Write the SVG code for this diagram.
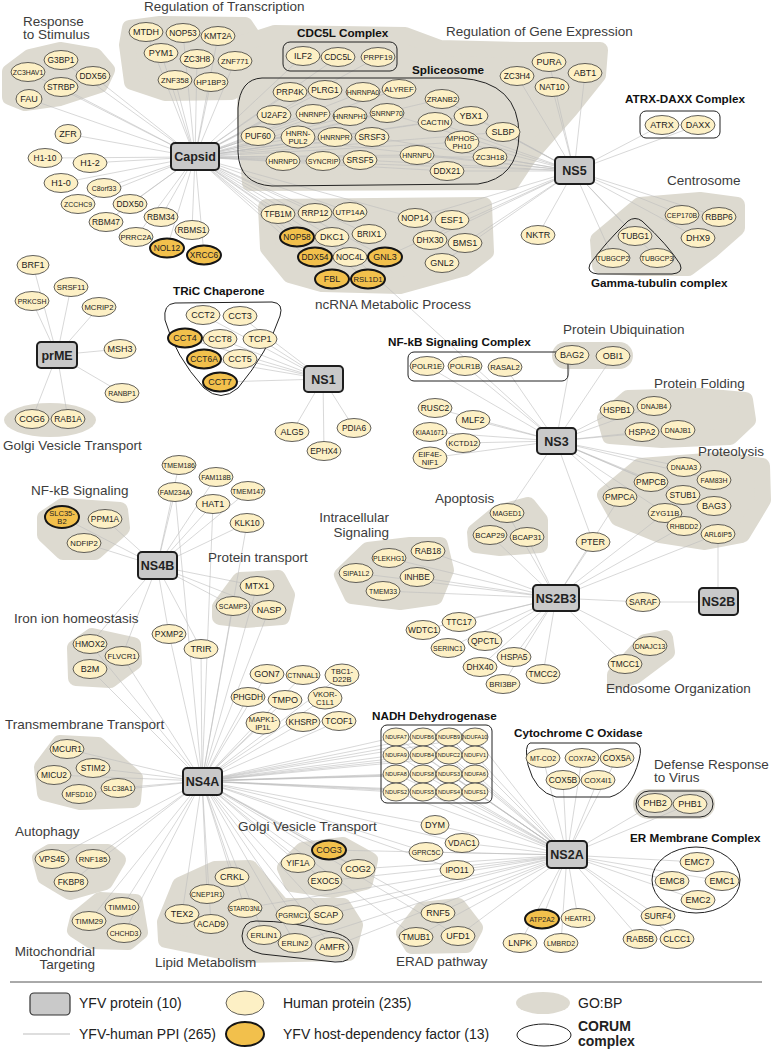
<svg xmlns="http://www.w3.org/2000/svg" width="771" height="1049" viewBox="0 0 771 1049">
<style>
.n ellipse{fill:#fdf0c5;stroke:#3a3a3a;stroke-width:.8}
.hdf ellipse{fill:#f2c04c;stroke:#151515;stroke-width:2}
.n text,.hub text{font-family:"Liberation Sans",Arial,sans-serif;text-anchor:middle;dominant-baseline:central;fill:#222}
.c4{font-size:9px}.c5{font-size:8.4px}.c6{font-size:7.7px}.c7{font-size:6.9px}.c8{font-size:6.3px}.c2{font-size:7.6px}.cn{font-size:5.5px}
.hub rect{fill:#c9c9c9;stroke:#1e1e1e;stroke-width:2}
.hub text{font-weight:bold;font-size:12.5px}
.go{fill:#dddad0;stroke:#dddad0;stroke-width:16;stroke-linejoin:round}
.gof{fill:#dddad0}
.cx{fill:none;stroke:#222;stroke-width:1}
.t{font-family:"Liberation Sans",Arial,sans-serif;font-size:13.5px;fill:#3c3c3c}
.tb{font-family:"Liberation Sans",Arial,sans-serif;font-size:11.7px;font-weight:bold;fill:#111}
.lg{font-family:"Liberation Sans",Arial,sans-serif;font-size:14px;fill:#222}
#edges line{stroke:#bdbdbd;stroke-width:.6}
</style>
<rect width="771" height="1049" fill="#fff"/>
<g id="gobp">
<polygon class="go" points="10,72 30,57 60,50 95,56 107,70 100,85 60,98 25,103 10,97"/>
<polygon class="go" points="130,28 160,24 245,25 255,40 250,75 232,92 165,93 132,82 127,45"/>
<polygon class="go" points="246,42 275,33 405,35 440,48 520,50 600,50 598,75 570,110 528,158 512,182 250,183 245,120"/>
<polygon class="go" points="266,207 484,205 486,252 465,268 400,286 322,284 290,275 268,248"/>
<polygon class="go" points="598,240 640,205 700,200 737,205 737,228 712,250 688,268 640,268 600,266"/>
<rect class="gof" x="552" y="342" width="81" height="27" rx="13.5"/>
<polygon class="go" points="605,418 628,398 700,396 745,400 748,420 730,437 662,440 610,436"/>
<polygon class="go" points="605,495 640,466 720,460 762,466 763,500 742,535 705,542 660,535 618,518"/>
<polygon class="go" points="475,532 498,513 528,505 540,520 540,545 500,548 476,545"/>
<polygon class="go" points="342,575 368,550 410,545 440,545 446,570 435,597 400,602 352,596"/>
<polygon class="go" points="615,675 645,642 665,638 667,652 635,676 615,682"/>
<ellipse class="gof" cx="50" cy="420" rx="46" ry="17"/>
<polygon class="go" points="45,518 63,506 120,510 122,528 95,552 63,552 45,535"/>
<polygon class="go" points="220,607 240,580 278,578 287,595 282,617 245,620 220,617"/>
<polygon class="go" points="75,648 92,636 133,645 134,662 110,680 76,678"/>
<polygon class="go" points="42,767 60,743 98,745 135,778 133,800 80,802 45,793"/>
<polygon class="go" points="40,858 50,852 108,852 118,860 105,882 70,892 45,877"/>
<polygon class="go" points="78,918 100,900 135,902 140,932 128,942 92,941 75,930"/>
<polygon class="go" points="165,922 180,885 215,869 250,868 265,886 282,906 343,906 355,925 348,953 240,955 166,940"/>
<polygon class="go" points="285,868 303,850 343,845 370,860 365,882 333,890 292,884"/>
<polygon class="go" points="404,933 422,910 458,906 475,928 466,945 412,946"/>
<rect class="gof" x="633" y="789" width="82" height="30" rx="15"/>
</g>
<g id="edges">
<line x1="195" y1="157" x2="61" y2="60"/><line x1="195" y1="157" x2="28" y2="72"/><line x1="195" y1="157" x2="93" y2="76"/><line x1="195" y1="157" x2="61" y2="87"/><line x1="195" y1="157" x2="29" y2="99"/>
<line x1="195" y1="157" x2="146" y2="32"/><line x1="195" y1="157" x2="183" y2="33"/><line x1="195" y1="157" x2="218" y2="36"/><line x1="195" y1="157" x2="161" y2="53"/><line x1="195" y1="157" x2="197" y2="59"/><line x1="195" y1="157" x2="235" y2="61"/><line x1="195" y1="157" x2="175" y2="80"/><line x1="195" y1="157" x2="211" y2="82"/>
<line x1="195" y1="157" x2="68" y2="134"/><line x1="195" y1="157" x2="45" y2="158"/><line x1="195" y1="157" x2="90" y2="163"/><line x1="195" y1="157" x2="61" y2="183"/><line x1="195" y1="157" x2="104" y2="188"/><line x1="195" y1="157" x2="78" y2="204"/><line x1="195" y1="157" x2="130" y2="204"/><line x1="195" y1="157" x2="106" y2="222"/><line x1="195" y1="157" x2="161" y2="217"/><line x1="195" y1="157" x2="192" y2="230"/><line x1="195" y1="157" x2="136" y2="237"/><line x1="195" y1="157" x2="167" y2="248"/><line x1="195" y1="157" x2="204" y2="255"/>
<line x1="195" y1="157" x2="303" y2="56"/><line x1="195" y1="157" x2="338" y2="57"/><line x1="195" y1="157" x2="378" y2="57"/>
<line x1="195" y1="157" x2="290" y2="92"/><line x1="195" y1="157" x2="325" y2="90"/><line x1="195" y1="157" x2="363" y2="92"/><line x1="195" y1="157" x2="399" y2="89"/><line x1="195" y1="157" x2="274" y2="115"/><line x1="195" y1="157" x2="313" y2="114"/><line x1="195" y1="157" x2="350" y2="116"/><line x1="195" y1="157" x2="387" y2="113"/><line x1="195" y1="157" x2="258" y2="136"/><line x1="195" y1="157" x2="298" y2="137"/><line x1="195" y1="157" x2="335" y2="137"/><line x1="195" y1="157" x2="372" y2="137"/><line x1="195" y1="157" x2="283" y2="161"/><line x1="195" y1="157" x2="323" y2="161"/><line x1="195" y1="157" x2="360" y2="160"/><line x1="195" y1="157" x2="417" y2="155"/><line x1="195" y1="157" x2="442" y2="99"/><line x1="195" y1="157" x2="435" y2="122"/><line x1="195" y1="157" x2="471" y2="116"/><line x1="195" y1="157" x2="503" y2="132"/><line x1="195" y1="157" x2="462" y2="142"/><line x1="195" y1="157" x2="490" y2="157"/><line x1="195" y1="157" x2="447" y2="171"/>
<line x1="195" y1="157" x2="278" y2="214"/><line x1="195" y1="157" x2="315" y2="213"/><line x1="195" y1="157" x2="350" y2="212"/><line x1="195" y1="157" x2="297" y2="237"/><line x1="195" y1="157" x2="332" y2="237"/><line x1="195" y1="157" x2="369" y2="234"/><line x1="195" y1="157" x2="315" y2="257"/><line x1="195" y1="157" x2="350" y2="257"/><line x1="195" y1="157" x2="385" y2="257"/><line x1="195" y1="157" x2="332" y2="279"/><line x1="195" y1="157" x2="368" y2="279"/><line x1="195" y1="157" x2="415" y2="218"/>
<line x1="574" y1="171" x2="517" y2="76"/><line x1="574" y1="171" x2="549" y2="62"/><line x1="574" y1="171" x2="585" y2="73"/><line x1="574" y1="171" x2="552" y2="87"/><line x1="574" y1="171" x2="662" y2="125"/><line x1="574" y1="171" x2="698" y2="125"/><line x1="574" y1="171" x2="682" y2="215"/><line x1="574" y1="171" x2="719" y2="217"/><line x1="574" y1="171" x2="698" y2="238"/><line x1="574" y1="171" x2="635" y2="236"/><line x1="574" y1="171" x2="613" y2="258"/><line x1="574" y1="171" x2="657" y2="258"/><line x1="574" y1="171" x2="538" y2="235"/>
<line x1="574" y1="171" x2="503" y2="132"/><line x1="574" y1="171" x2="490" y2="157"/><line x1="574" y1="171" x2="447" y2="171"/><line x1="574" y1="171" x2="417" y2="155"/><line x1="574" y1="171" x2="462" y2="142"/><line x1="574" y1="171" x2="471" y2="116"/><line x1="574" y1="171" x2="435" y2="122"/><line x1="574" y1="171" x2="442" y2="99"/><line x1="574" y1="171" x2="372" y2="137"/><line x1="574" y1="171" x2="387" y2="113"/><line x1="574" y1="171" x2="360" y2="160"/><line x1="574" y1="171" x2="283" y2="161"/><line x1="574" y1="171" x2="258" y2="136"/>
<line x1="574" y1="171" x2="415" y2="218"/><line x1="574" y1="171" x2="452" y2="220"/><line x1="574" y1="171" x2="430" y2="240"/><line x1="574" y1="171" x2="465" y2="243"/><line x1="574" y1="171" x2="442" y2="263"/><line x1="574" y1="171" x2="385" y2="257"/>
<line x1="57" y1="355" x2="33" y2="265"/><line x1="57" y1="355" x2="71" y2="287"/><line x1="57" y1="355" x2="32" y2="301"/><line x1="57" y1="355" x2="99" y2="307"/><line x1="57" y1="355" x2="120" y2="349"/><line x1="57" y1="355" x2="122" y2="393"/><line x1="57" y1="355" x2="32" y2="419"/><line x1="57" y1="355" x2="68" y2="419"/>
<line x1="323" y1="379" x2="203" y2="315"/><line x1="323" y1="379" x2="240" y2="316"/><line x1="323" y1="379" x2="185" y2="338"/><line x1="323" y1="379" x2="220" y2="339"/><line x1="323" y1="379" x2="260" y2="339"/><line x1="323" y1="379" x2="204" y2="359"/><line x1="323" y1="379" x2="240" y2="359"/><line x1="323" y1="379" x2="220" y2="382"/><line x1="323" y1="379" x2="292" y2="432"/><line x1="323" y1="379" x2="324" y2="451"/><line x1="323" y1="379" x2="354" y2="428"/>
<line x1="556" y1="441" x2="427" y2="366"/><line x1="556" y1="441" x2="465" y2="366"/><line x1="556" y1="441" x2="505" y2="367"/><line x1="556" y1="441" x2="435" y2="408"/><line x1="556" y1="441" x2="473" y2="420"/><line x1="556" y1="441" x2="430" y2="432"/><line x1="556" y1="441" x2="463" y2="443"/><line x1="556" y1="441" x2="430" y2="458"/><line x1="556" y1="441" x2="572" y2="355"/><line x1="556" y1="441" x2="613" y2="356"/><line x1="556" y1="441" x2="617" y2="410"/><line x1="556" y1="441" x2="654" y2="406"/><line x1="556" y1="441" x2="642" y2="432"/><line x1="556" y1="441" x2="678" y2="430"/><line x1="556" y1="441" x2="684" y2="467"/><line x1="556" y1="441" x2="651" y2="482"/><line x1="556" y1="441" x2="714" y2="480"/><line x1="556" y1="441" x2="683" y2="495"/><line x1="556" y1="441" x2="620" y2="497"/><line x1="556" y1="441" x2="714" y2="506"/><line x1="556" y1="441" x2="665" y2="513"/><line x1="556" y1="441" x2="332" y2="237"/><line x1="556" y1="441" x2="507" y2="513"/><line x1="556" y1="441" x2="593" y2="542"/>
<line x1="556" y1="598" x2="507" y2="513"/><line x1="556" y1="598" x2="490" y2="535"/><line x1="556" y1="598" x2="527" y2="537"/><line x1="556" y1="598" x2="593" y2="542"/><line x1="556" y1="598" x2="389" y2="558"/><line x1="556" y1="598" x2="428" y2="551"/><line x1="556" y1="598" x2="356" y2="573"/><line x1="556" y1="598" x2="417" y2="577"/><line x1="556" y1="598" x2="383" y2="591"/><line x1="556" y1="598" x2="423" y2="630"/><line x1="556" y1="598" x2="459" y2="622"/><line x1="556" y1="598" x2="485" y2="641"/><line x1="556" y1="598" x2="448" y2="648"/><line x1="556" y1="598" x2="514" y2="657"/><line x1="556" y1="598" x2="480" y2="667"/><line x1="556" y1="598" x2="503" y2="684"/><line x1="556" y1="598" x2="543" y2="674"/><line x1="556" y1="598" x2="650" y2="646"/><line x1="556" y1="598" x2="625" y2="664"/><line x1="556" y1="598" x2="643" y2="602"/><line x1="556" y1="598" x2="684" y2="526"/><line x1="556" y1="598" x2="718" y2="534"/><line x1="556" y1="598" x2="665" y2="513"/><line x1="556" y1="598" x2="620" y2="497"/>
<line x1="718" y1="602" x2="718" y2="534"/><line x1="718" y1="602" x2="643" y2="602"/>
<line x1="157" y1="566" x2="62" y2="517"/><line x1="157" y1="566" x2="105" y2="519"/><line x1="157" y1="566" x2="84" y2="543"/><line x1="157" y1="566" x2="179" y2="465"/><line x1="157" y1="566" x2="216" y2="477"/><line x1="157" y1="566" x2="175" y2="492"/><line x1="157" y1="566" x2="248" y2="491"/><line x1="157" y1="566" x2="213" y2="504"/><line x1="157" y1="566" x2="247" y2="523"/><line x1="157" y1="566" x2="257" y2="586"/><line x1="157" y1="566" x2="233" y2="606"/><line x1="157" y1="566" x2="269" y2="610"/><line x1="157" y1="566" x2="90" y2="644"/><line x1="157" y1="566" x2="122" y2="656"/><line x1="157" y1="566" x2="169" y2="634"/><line x1="157" y1="566" x2="201" y2="649"/>
<line x1="202" y1="781" x2="90" y2="644"/><line x1="202" y1="781" x2="122" y2="656"/><line x1="202" y1="781" x2="90" y2="669"/><line x1="202" y1="781" x2="169" y2="634"/><line x1="202" y1="781" x2="201" y2="649"/><line x1="202" y1="781" x2="233" y2="606"/><line x1="202" y1="781" x2="269" y2="610"/><line x1="202" y1="781" x2="257" y2="586"/><line x1="202" y1="781" x2="175" y2="492"/><line x1="202" y1="781" x2="247" y2="523"/><line x1="202" y1="781" x2="213" y2="504"/>
<line x1="202" y1="781" x2="267" y2="674"/><line x1="202" y1="781" x2="303" y2="675"/><line x1="202" y1="781" x2="342" y2="675"/><line x1="202" y1="781" x2="248" y2="697"/><line x1="202" y1="781" x2="285" y2="700"/><line x1="202" y1="781" x2="325" y2="698"/><line x1="202" y1="781" x2="263" y2="723"/><line x1="202" y1="781" x2="303" y2="722"/><line x1="202" y1="781" x2="339" y2="721"/>
<line x1="202" y1="781" x2="67" y2="749"/><line x1="202" y1="781" x2="93" y2="768"/><line x1="202" y1="781" x2="54" y2="775"/><line x1="202" y1="781" x2="118" y2="788"/><line x1="202" y1="781" x2="79" y2="794"/>
<line x1="202" y1="781" x2="52" y2="859"/><line x1="202" y1="781" x2="93" y2="859"/><line x1="202" y1="781" x2="71" y2="882"/><line x1="202" y1="781" x2="122" y2="907"/><line x1="202" y1="781" x2="89" y2="921"/><line x1="202" y1="781" x2="124" y2="933"/>
<line x1="202" y1="781" x2="232" y2="877"/><line x1="202" y1="781" x2="207" y2="894"/><line x1="202" y1="781" x2="245" y2="908"/><line x1="202" y1="781" x2="182" y2="914"/><line x1="202" y1="781" x2="211" y2="924"/><line x1="202" y1="781" x2="293" y2="915"/><line x1="202" y1="781" x2="326" y2="915"/><line x1="202" y1="781" x2="264" y2="935"/><line x1="202" y1="781" x2="295" y2="943"/><line x1="202" y1="781" x2="332" y2="947"/>
<line x1="202" y1="781" x2="298" y2="863"/><line x1="202" y1="781" x2="329" y2="850"/><line x1="202" y1="781" x2="358" y2="869"/><line x1="202" y1="781" x2="325" y2="881"/>
<line x1="202" y1="781" x2="396" y2="737"/><line x1="202" y1="781" x2="423" y2="737"/><line x1="202" y1="781" x2="449" y2="737"/><line x1="202" y1="781" x2="475" y2="737"/><line x1="202" y1="781" x2="396" y2="755"/><line x1="202" y1="781" x2="423" y2="755"/><line x1="202" y1="781" x2="449" y2="755"/><line x1="202" y1="781" x2="475" y2="755"/><line x1="202" y1="781" x2="396" y2="774"/><line x1="202" y1="781" x2="423" y2="774"/><line x1="202" y1="781" x2="449" y2="774"/><line x1="202" y1="781" x2="475" y2="774"/><line x1="202" y1="781" x2="396" y2="792"/><line x1="202" y1="781" x2="423" y2="792"/><line x1="202" y1="781" x2="449" y2="792"/><line x1="202" y1="781" x2="475" y2="792"/>
<line x1="202" y1="781" x2="435" y2="825"/><line x1="202" y1="781" x2="462" y2="843"/><line x1="202" y1="781" x2="426" y2="852"/><line x1="202" y1="781" x2="457" y2="870"/><line x1="202" y1="781" x2="438" y2="913"/><line x1="202" y1="781" x2="416" y2="937"/><line x1="202" y1="781" x2="458" y2="936"/>
<line x1="567" y1="855" x2="543" y2="758"/><line x1="567" y1="855" x2="582" y2="758"/><line x1="567" y1="855" x2="617" y2="758"/><line x1="567" y1="855" x2="563" y2="780"/><line x1="567" y1="855" x2="598" y2="780"/><line x1="567" y1="855" x2="655" y2="803"/><line x1="567" y1="855" x2="690" y2="804"/><line x1="567" y1="855" x2="697" y2="862"/><line x1="567" y1="855" x2="672" y2="881"/><line x1="567" y1="855" x2="722" y2="881"/><line x1="567" y1="855" x2="698" y2="900"/><line x1="567" y1="855" x2="542" y2="919"/><line x1="567" y1="855" x2="578" y2="918"/><line x1="567" y1="855" x2="520" y2="943"/><line x1="567" y1="855" x2="561" y2="943"/><line x1="567" y1="855" x2="658" y2="916"/><line x1="567" y1="855" x2="640" y2="939"/><line x1="567" y1="855" x2="677" y2="939"/>
<line x1="567" y1="855" x2="396" y2="737"/><line x1="567" y1="855" x2="423" y2="737"/><line x1="567" y1="855" x2="449" y2="737"/><line x1="567" y1="855" x2="475" y2="737"/><line x1="567" y1="855" x2="396" y2="755"/><line x1="567" y1="855" x2="423" y2="755"/><line x1="567" y1="855" x2="449" y2="755"/><line x1="567" y1="855" x2="475" y2="755"/><line x1="567" y1="855" x2="396" y2="774"/><line x1="567" y1="855" x2="423" y2="774"/><line x1="567" y1="855" x2="449" y2="774"/><line x1="567" y1="855" x2="475" y2="774"/><line x1="567" y1="855" x2="396" y2="792"/><line x1="567" y1="855" x2="423" y2="792"/><line x1="567" y1="855" x2="449" y2="792"/><line x1="567" y1="855" x2="475" y2="792"/>
<line x1="567" y1="855" x2="435" y2="825"/><line x1="567" y1="855" x2="462" y2="843"/><line x1="567" y1="855" x2="426" y2="852"/><line x1="567" y1="855" x2="457" y2="870"/><line x1="567" y1="855" x2="438" y2="913"/><line x1="567" y1="855" x2="416" y2="937"/><line x1="567" y1="855" x2="458" y2="936"/><line x1="567" y1="855" x2="358" y2="869"/><line x1="567" y1="855" x2="325" y2="881"/><line x1="567" y1="855" x2="329" y2="850"/><line x1="567" y1="855" x2="293" y2="915"/><line x1="567" y1="855" x2="326" y2="915"/><line x1="567" y1="855" x2="332" y2="947"/><line x1="567" y1="855" x2="295" y2="943"/><line x1="567" y1="855" x2="245" y2="908"/>
</g>
<g id="complexes">
<rect class="cx" x="283" y="42" width="114" height="29" rx="7"/>
<path class="cx" d="M262,78 L460,78 Q519,82 519,135 Q518,178 478,184 L272,186 Q239,184 238,152 L238,108 Q240,79 262,78 Z"/>
<path class="cx" d="M175,303 L272,302 Q284,303 280,316 Q268,352 238,388 Q221,403 204,388 Q175,356 165,320 Q163,304 175,303 Z"/>
<rect class="cx" x="640" y="111" width="80" height="27" rx="6"/>
<path class="cx" d="M628,221 Q635,216 642,221 Q668,245 680,264 Q684,273 672,274 L598,274 Q586,273 590,264 Q605,243 628,221 Z"/>
<rect class="cx" x="408" y="352" width="160" height="29" rx="6"/>
<rect class="cx" x="381" y="725" width="111" height="78" rx="6"/>
<path class="cx" d="M530,743 L636,743 Q643,745 639,760 Q631,791 610,797 L556,797 Q535,792 528,765 Q524,745 530,743 Z"/>
<rect class="cx" x="636" y="791" width="77" height="26" rx="13"/>
<ellipse class="cx" cx="696" cy="880" rx="44" ry="33"/>
<path class="cx" d="M256,921 Q292,921 326,931 Q353,935 353,950 Q352,963 335,962 L262,954 Q242,950 242,936 Q243,921 256,921 Z"/>
</g>
<g id="labels">
<text class="t" x="23" y="26">Response</text><text class="t" x="23" y="39">to Stimulus</text>
<text class="t" x="144" y="11">Regulation of Transcription</text>
<text class="tb" x="297" y="37">CDC5L Complex</text>
<text class="tb" x="412" y="74">Spliceosome</text>
<text class="t" x="446" y="36">Regulation of Gene Expression</text>
<text class="tb" x="625" y="103">ATRX-DAXX Complex</text>
<text class="t" x="667" y="185">Centrosome</text>
<text class="tb" x="591" y="287">Gamma-tubulin complex</text>
<text class="t" x="315" y="309">ncRNA Metabolic Process</text>
<text class="tb" x="173" y="295">TRiC Chaperone</text>
<text class="tb" x="388" y="346">NF-kB Signaling Complex</text>
<text class="t" x="563" y="334">Protein Ubiquination</text>
<text class="t" x="654" y="388">Protein Folding</text>
<text class="t" x="698" y="456">Proteolysis</text>
<text class="t" x="3" y="450">Golgi Vesicle Transport</text>
<text class="t" x="31" y="495">NF-kB Signaling</text>
<text class="t" x="435" y="503">Apoptosis</text>
<text class="t" x="389" y="522" text-anchor="end">Intracellular</text><text class="t" x="389" y="537" text-anchor="end">Signaling</text>
<text class="t" x="208" y="562">Protein transport</text>
<text class="t" x="14" y="623">Iron ion homeostasis</text>
<text class="t" x="606" y="693">Endosome Organization</text>
<text class="t" x="5" y="729">Transmembrane Transport</text>
<text class="tb" x="372" y="720">NADH Dehydrogenase</text>
<text class="tb" x="514" y="737">Cytochrome C Oxidase</text>
<text class="t" x="654" y="769">Defense Response</text><text class="t" x="654" y="782">to Virus</text>
<text class="tb" x="630" y="842">ER Membrane Complex</text>
<text class="t" x="238" y="831">Golgi Vesicle Transport</text>
<text class="t" x="15" y="836">Autophagy</text>
<text class="t" x="95" y="956" text-anchor="end">Mitochondrial</text><text class="t" x="95" y="969" text-anchor="end">Targeting</text>
<text class="t" x="155" y="967">Lipid Metabolism</text>
<text class="t" x="396" y="966">ERAD pathway</text>
</g>
<g id="nodes">
<g id="n-G3BP1" class="n"><ellipse cx="61" cy="60" rx="17" ry="9.5"/><text x="61" y="60" class="c5">G3BP1</text></g>
<g id="n-ZC3HAV1" class="n"><ellipse cx="28" cy="72" rx="17" ry="9.5"/><text x="28" y="72" class="c7">ZC3HAV1</text></g>
<g id="n-DDX56" class="n"><ellipse cx="93" cy="76" rx="17" ry="9.5"/><text x="93" y="76" class="c5">DDX56</text></g>
<g id="n-STRBP" class="n"><ellipse cx="61" cy="87" rx="17" ry="9.5"/><text x="61" y="87" class="c5">STRBP</text></g>
<g id="n-FAU" class="n"><ellipse cx="29" cy="99" rx="13" ry="9.5"/><text x="29" y="99" class="c4">FAU</text></g>
<g id="n-MTDH" class="n"><ellipse cx="146" cy="32" rx="17" ry="9.5"/><text x="146" y="32" class="c4">MTDH</text></g>
<g id="n-NOP53" class="n"><ellipse cx="183" cy="33" rx="17" ry="9.5"/><text x="183" y="33" class="c5">NOP53</text></g>
<g id="n-KMT2A" class="n"><ellipse cx="218" cy="36" rx="17" ry="9.5"/><text x="218" y="36" class="c5">KMT2A</text></g>
<g id="n-PYM1" class="n"><ellipse cx="161" cy="53" rx="17" ry="9.5"/><text x="161" y="53" class="c4">PYM1</text></g>
<g id="n-ZC3H8" class="n"><ellipse cx="197" cy="59" rx="17" ry="9.5"/><text x="197" y="59" class="c5">ZC3H8</text></g>
<g id="n-ZNF771" class="n"><ellipse cx="235" cy="61" rx="17" ry="9.5"/><text x="235" y="61" class="c6">ZNF771</text></g>
<g id="n-ZNF358" class="n"><ellipse cx="175" cy="80" rx="17" ry="9.5"/><text x="175" y="80" class="c6">ZNF358</text></g>
<g id="n-HP1BP3" class="n"><ellipse cx="211" cy="82" rx="17" ry="9.5"/><text x="211" y="82" class="c6">HP1BP3</text></g>
<g id="n-ZFR" class="n"><ellipse cx="68" cy="134" rx="13" ry="9.5"/><text x="68" y="134" class="c4">ZFR</text></g>
<g id="n-H1-10" class="n"><ellipse cx="45" cy="158" rx="17" ry="9.5"/><text x="45" y="158" class="c5">H1-10</text></g>
<g id="n-H1-2" class="n"><ellipse cx="90" cy="163" rx="17" ry="9.5"/><text x="90" y="163" class="c4">H1-2</text></g>
<g id="n-H1-0" class="n"><ellipse cx="61" cy="183" rx="17" ry="9.5"/><text x="61" y="183" class="c4">H1-0</text></g>
<g id="n-C8orf33" class="n"><ellipse cx="104" cy="188" rx="17" ry="9.5"/><text x="104" y="188" class="c7">C8orf33</text></g>
<g id="n-ZCCHC9" class="n"><ellipse cx="78" cy="204" rx="17" ry="9.5"/><text x="78" y="204" class="c7">ZCCHC9</text></g>
<g id="n-DDX50" class="n"><ellipse cx="130" cy="204" rx="17" ry="9.5"/><text x="130" y="204" class="c5">DDX50</text></g>
<g id="n-RBM47" class="n"><ellipse cx="106" cy="222" rx="17" ry="9.5"/><text x="106" y="222" class="c5">RBM47</text></g>
<g id="n-RBM34" class="n"><ellipse cx="161" cy="217" rx="17" ry="9.5"/><text x="161" y="217" class="c5">RBM34</text></g>
<g id="n-RBMS1" class="n"><ellipse cx="192" cy="230" rx="17" ry="9.5"/><text x="192" y="230" class="c5">RBMS1</text></g>
<g id="n-PRRC2A" class="n"><ellipse cx="136" cy="237" rx="17" ry="9.5"/><text x="136" y="237" class="c6">PRRC2A</text></g>
<g id="n-NOL12" class="n hdf"><ellipse cx="167" cy="248" rx="17" ry="9.5"/><text x="167" y="248" class="c5">NOL12</text></g>
<g id="n-XRCC6" class="n hdf"><ellipse cx="204" cy="255" rx="17" ry="9.5"/><text x="204" y="255" class="c5">XRCC6</text></g>
<g id="n-BRF1" class="n"><ellipse cx="33" cy="265" rx="16" ry="9.5"/><text x="33" y="265" class="c4">BRF1</text></g>
<g id="n-ILF2" class="n"><ellipse cx="303" cy="56" rx="17" ry="9.5"/><text x="303" y="56" class="c4">ILF2</text></g>
<g id="n-CDC5L" class="n"><ellipse cx="338" cy="57" rx="17" ry="9.5"/><text x="338" y="57" class="c5">CDC5L</text></g>
<g id="n-PRPF19" class="n"><ellipse cx="378" cy="57" rx="17" ry="9.5"/><text x="378" y="57" class="c6">PRPF19</text></g>
<g id="n-PRP4K" class="n"><ellipse cx="290" cy="92" rx="17" ry="9.5"/><text x="290" y="92" class="c5">PRP4K</text></g>
<g id="n-PLRG1" class="n"><ellipse cx="325" cy="90" rx="17" ry="9.5"/><text x="325" y="90" class="c5">PLRG1</text></g>
<g id="n-HNRNPA0" class="n"><ellipse cx="363" cy="92" rx="17" ry="9.5"/><text x="363" y="92" class="c7">HNRNPA0</text></g>
<g id="n-ALYREF" class="n"><ellipse cx="399" cy="89" rx="17" ry="9.5"/><text x="399" y="89" class="c6">ALYREF</text></g>
<g id="n-ZRANB2" class="n"><ellipse cx="442" cy="99" rx="17" ry="9.5"/><text x="442" y="99" class="c6">ZRANB2</text></g>
<g id="n-U2AF2" class="n"><ellipse cx="274" cy="115" rx="17" ry="9.5"/><text x="274" y="115" class="c5">U2AF2</text></g>
<g id="n-HNRNPF" class="n"><ellipse cx="313" cy="114" rx="17" ry="9.5"/><text x="313" y="114" class="c7">HNRNPF</text></g>
<g id="n-HNRNPH1" class="n"><ellipse cx="350" cy="116" rx="17" ry="9.5"/><text x="350" y="116" class="c7">HNRNPH1</text></g>
<g id="n-SNRNP70" class="n"><ellipse cx="387" cy="113" rx="17" ry="9.5"/><text x="387" y="113" class="c7">SNRNP70</text></g>
<g id="n-CACTIN" class="n"><ellipse cx="435" cy="122" rx="17" ry="9.5"/><text x="435" y="122" class="c6">CACTIN</text></g>
<g id="n-YBX1" class="n"><ellipse cx="471" cy="116" rx="17" ry="9.5"/><text x="471" y="116" class="c4">YBX1</text></g>
<g id="n-PUF60" class="n"><ellipse cx="258" cy="136" rx="17" ry="9.5"/><text x="258" y="136" class="c5">PUF60</text></g>
<g id="n-HNRNPUL2" class="n"><ellipse cx="298" cy="137" rx="17" ry="11"/><text x="298" y="137" class="c2"><tspan x="298" dy="-4">HNRN-</tspan><tspan x="298" dy="8">PUL2</tspan></text></g>
<g id="n-HNRNPR" class="n"><ellipse cx="335" cy="137" rx="17" ry="9.5"/><text x="335" y="137" class="c7">HNRNPR</text></g>
<g id="n-SRSF3" class="n"><ellipse cx="372" cy="137" rx="17" ry="9.5"/><text x="372" y="137" class="c5">SRSF3</text></g>
<g id="n-MPHOSPH10" class="n"><ellipse cx="462" cy="142" rx="17" ry="11"/><text x="462" y="142" class="c2"><tspan x="462" dy="-4">MPHOS-</tspan><tspan x="462" dy="8">PH10</tspan></text></g>
<g id="n-SLBP" class="n"><ellipse cx="503" cy="132" rx="17" ry="9.5"/><text x="503" y="132" class="c4">SLBP</text></g>
<g id="n-HNRNPD" class="n"><ellipse cx="283" cy="161" rx="17" ry="9.5"/><text x="283" y="161" class="c7">HNRNPD</text></g>
<g id="n-SYNCRIP" class="n"><ellipse cx="323" cy="161" rx="17" ry="9.5"/><text x="323" y="161" class="c7">SYNCRIP</text></g>
<g id="n-SRSF5" class="n"><ellipse cx="360" cy="160" rx="17" ry="9.5"/><text x="360" y="160" class="c5">SRSF5</text></g>
<g id="n-HNRNPU" class="n"><ellipse cx="417" cy="155" rx="17" ry="9.5"/><text x="417" y="155" class="c7">HNRNPU</text></g>
<g id="n-ZC3H18" class="n"><ellipse cx="490" cy="157" rx="17" ry="9.5"/><text x="490" y="157" class="c6">ZC3H18</text></g>
<g id="n-DDX21" class="n"><ellipse cx="447" cy="171" rx="17" ry="9.5"/><text x="447" y="171" class="c5">DDX21</text></g>
<g id="n-TFB1M" class="n"><ellipse cx="278" cy="214" rx="17" ry="9.5"/><text x="278" y="214" class="c5">TFB1M</text></g>
<g id="n-RRP12" class="n"><ellipse cx="315" cy="213" rx="17" ry="9.5"/><text x="315" y="213" class="c5">RRP12</text></g>
<g id="n-UTP14A" class="n"><ellipse cx="350" cy="212" rx="17" ry="9.5"/><text x="350" y="212" class="c6">UTP14A</text></g>
<g id="n-NOP58" class="n hdf"><ellipse cx="297" cy="237" rx="17" ry="9.5"/><text x="297" y="237" class="c5">NOP58</text></g>
<g id="n-DKC1" class="n"><ellipse cx="332" cy="237" rx="17" ry="9.5"/><text x="332" y="237" class="c4">DKC1</text></g>
<g id="n-BRIX1" class="n"><ellipse cx="369" cy="234" rx="17" ry="9.5"/><text x="369" y="234" class="c5">BRIX1</text></g>
<g id="n-DDX54" class="n hdf"><ellipse cx="315" cy="257" rx="17" ry="9.5"/><text x="315" y="257" class="c5">DDX54</text></g>
<g id="n-NOC4L" class="n"><ellipse cx="350" cy="257" rx="17" ry="9.5"/><text x="350" y="257" class="c5">NOC4L</text></g>
<g id="n-GNL3" class="n hdf"><ellipse cx="385" cy="257" rx="17" ry="9.5"/><text x="385" y="257" class="c4">GNL3</text></g>
<g id="n-FBL" class="n hdf"><ellipse cx="332" cy="279" rx="17" ry="9.5"/><text x="332" y="279" class="c4">FBL</text></g>
<g id="n-RSL1D1" class="n hdf"><ellipse cx="368" cy="279" rx="17" ry="9.5"/><text x="368" y="279" class="c6">RSL1D1</text></g>
<g id="n-NOP14" class="n"><ellipse cx="415" cy="218" rx="17" ry="9.5"/><text x="415" y="218" class="c5">NOP14</text></g>
<g id="n-ESF1" class="n"><ellipse cx="452" cy="220" rx="17" ry="9.5"/><text x="452" y="220" class="c4">ESF1</text></g>
<g id="n-DHX30" class="n"><ellipse cx="430" cy="240" rx="17" ry="9.5"/><text x="430" y="240" class="c5">DHX30</text></g>
<g id="n-BMS1" class="n"><ellipse cx="465" cy="243" rx="17" ry="9.5"/><text x="465" y="243" class="c4">BMS1</text></g>
<g id="n-GNL2" class="n"><ellipse cx="442" cy="263" rx="17" ry="9.5"/><text x="442" y="263" class="c4">GNL2</text></g>
<g id="n-ZC3H4" class="n"><ellipse cx="517" cy="76" rx="17" ry="9.5"/><text x="517" y="76" class="c5">ZC3H4</text></g>
<g id="n-PURA" class="n"><ellipse cx="549" cy="62" rx="17" ry="9.5"/><text x="549" y="62" class="c4">PURA</text></g>
<g id="n-ABT1" class="n"><ellipse cx="585" cy="73" rx="17" ry="9.5"/><text x="585" y="73" class="c4">ABT1</text></g>
<g id="n-NAT10" class="n"><ellipse cx="552" cy="87" rx="17" ry="9.5"/><text x="552" y="87" class="c5">NAT10</text></g>
<g id="n-ATRX" class="n"><ellipse cx="662" cy="125" rx="17" ry="9.5"/><text x="662" y="125" class="c4">ATRX</text></g>
<g id="n-DAXX" class="n"><ellipse cx="698" cy="125" rx="17" ry="9.5"/><text x="698" y="125" class="c4">DAXX</text></g>
<g id="n-NKTR" class="n"><ellipse cx="538" cy="235" rx="17" ry="9.5"/><text x="538" y="235" class="c4">NKTR</text></g>
<g id="n-CEP170B" class="n"><ellipse cx="682" cy="215" rx="17" ry="9.5"/><text x="682" y="215" class="c7">CEP170B</text></g>
<g id="n-RBBP6" class="n"><ellipse cx="719" cy="217" rx="17" ry="9.5"/><text x="719" y="217" class="c5">RBBP6</text></g>
<g id="n-DHX9" class="n"><ellipse cx="698" cy="238" rx="17" ry="9.5"/><text x="698" y="238" class="c4">DHX9</text></g>
<g id="n-TUBG1" class="n"><ellipse cx="635" cy="236" rx="17" ry="9.5"/><text x="635" y="236" class="c5">TUBG1</text></g>
<g id="n-TUBGCP2" class="n"><ellipse cx="613" cy="258" rx="17" ry="9.5"/><text x="613" y="258" class="c7">TUBGCP2</text></g>
<g id="n-TUBGCP3" class="n"><ellipse cx="657" cy="258" rx="17" ry="9.5"/><text x="657" y="258" class="c7">TUBGCP3</text></g>
<g id="n-SRSF11" class="n"><ellipse cx="71" cy="287" rx="17" ry="9.5"/><text x="71" y="287" class="c6">SRSF11</text></g>
<g id="n-PRKCSH" class="n"><ellipse cx="32" cy="301" rx="17" ry="9.5"/><text x="32" y="301" class="c7">PRKCSH</text></g>
<g id="n-MCRIP2" class="n"><ellipse cx="99" cy="307" rx="17" ry="9.5"/><text x="99" y="307" class="c6">MCRIP2</text></g>
<g id="n-MSH3" class="n"><ellipse cx="120" cy="349" rx="16" ry="9.5"/><text x="120" y="349" class="c4">MSH3</text></g>
<g id="n-RANBP1" class="n"><ellipse cx="122" cy="393" rx="17" ry="9.5"/><text x="122" y="393" class="c7">RANBP1</text></g>
<g id="n-COG6" class="n"><ellipse cx="32" cy="419" rx="17" ry="9.5"/><text x="32" y="419" class="c4">COG6</text></g>
<g id="n-RAB1A" class="n"><ellipse cx="68" cy="419" rx="17" ry="9.5"/><text x="68" y="419" class="c5">RAB1A</text></g>
<g id="n-CCT2" class="n"><ellipse cx="203" cy="315" rx="17" ry="9.5"/><text x="203" y="315" class="c4">CCT2</text></g>
<g id="n-CCT3" class="n"><ellipse cx="240" cy="316" rx="17" ry="9.5"/><text x="240" y="316" class="c4">CCT3</text></g>
<g id="n-CCT4" class="n hdf"><ellipse cx="185" cy="338" rx="17" ry="9.5"/><text x="185" y="338" class="c4">CCT4</text></g>
<g id="n-CCT8" class="n"><ellipse cx="220" cy="339" rx="17" ry="9.5"/><text x="220" y="339" class="c4">CCT8</text></g>
<g id="n-TCP1" class="n"><ellipse cx="260" cy="339" rx="17" ry="9.5"/><text x="260" y="339" class="c4">TCP1</text></g>
<g id="n-CCT6A" class="n hdf"><ellipse cx="204" cy="359" rx="17" ry="9.5"/><text x="204" y="359" class="c5">CCT6A</text></g>
<g id="n-CCT5" class="n"><ellipse cx="240" cy="359" rx="17" ry="9.5"/><text x="240" y="359" class="c4">CCT5</text></g>
<g id="n-CCT7" class="n hdf"><ellipse cx="220" cy="382" rx="17" ry="9.5"/><text x="220" y="382" class="c4">CCT7</text></g>
<g id="n-ALG5" class="n"><ellipse cx="292" cy="432" rx="17" ry="9.5"/><text x="292" y="432" class="c4">ALG5</text></g>
<g id="n-EPHX4" class="n"><ellipse cx="324" cy="451" rx="17" ry="9.5"/><text x="324" y="451" class="c5">EPHX4</text></g>
<g id="n-PDIA6" class="n"><ellipse cx="354" cy="428" rx="17" ry="9.5"/><text x="354" y="428" class="c5">PDIA6</text></g>
<g id="n-POLR1E" class="n"><ellipse cx="427" cy="366" rx="17" ry="9.5"/><text x="427" y="366" class="c6">POLR1E</text></g>
<g id="n-POLR1B" class="n"><ellipse cx="465" cy="366" rx="17" ry="9.5"/><text x="465" y="366" class="c6">POLR1B</text></g>
<g id="n-RASAL2" class="n"><ellipse cx="505" cy="367" rx="17" ry="9.5"/><text x="505" y="367" class="c6">RASAL2</text></g>
<g id="n-RUSC2" class="n"><ellipse cx="435" cy="408" rx="17" ry="9.5"/><text x="435" y="408" class="c5">RUSC2</text></g>
<g id="n-MLF2" class="n"><ellipse cx="473" cy="420" rx="17" ry="9.5"/><text x="473" y="420" class="c4">MLF2</text></g>
<g id="n-KIAA1671" class="n"><ellipse cx="430" cy="432" rx="17" ry="9.5"/><text x="430" y="432" class="c8">KIAA1671</text></g>
<g id="n-KCTD12" class="n"><ellipse cx="463" cy="443" rx="17" ry="9.5"/><text x="463" y="443" class="c6">KCTD12</text></g>
<g id="n-EIF4ENIF1" class="n"><ellipse cx="430" cy="458" rx="17" ry="11"/><text x="430" y="458" class="c2"><tspan x="430" dy="-4">EIF4E-</tspan><tspan x="430" dy="8">NIF1</tspan></text></g>
<g id="n-BAG2" class="n"><ellipse cx="572" cy="355" rx="17" ry="9.5"/><text x="572" y="355" class="c4">BAG2</text></g>
<g id="n-OBI1" class="n"><ellipse cx="613" cy="356" rx="17" ry="9.5"/><text x="613" y="356" class="c4">OBI1</text></g>
<g id="n-HSPB1" class="n"><ellipse cx="617" cy="410" rx="17" ry="9.5"/><text x="617" y="410" class="c5">HSPB1</text></g>
<g id="n-DNAJB4" class="n"><ellipse cx="654" cy="406" rx="17" ry="9.5"/><text x="654" y="406" class="c7">DNAJB4</text></g>
<g id="n-HSPA2" class="n"><ellipse cx="642" cy="432" rx="17" ry="9.5"/><text x="642" y="432" class="c5">HSPA2</text></g>
<g id="n-DNAJB1" class="n"><ellipse cx="678" cy="430" rx="17" ry="9.5"/><text x="678" y="430" class="c7">DNAJB1</text></g>
<g id="n-DNAJA3" class="n"><ellipse cx="684" cy="467" rx="17" ry="9.5"/><text x="684" y="467" class="c7">DNAJA3</text></g>
<g id="n-PMPCB" class="n"><ellipse cx="651" cy="482" rx="17" ry="9.5"/><text x="651" y="482" class="c5">PMPCB</text></g>
<g id="n-FAM83H" class="n"><ellipse cx="714" cy="480" rx="17" ry="9.5"/><text x="714" y="480" class="c7">FAM83H</text></g>
<g id="n-STUB1" class="n"><ellipse cx="683" cy="495" rx="17" ry="9.5"/><text x="683" y="495" class="c5">STUB1</text></g>
<g id="n-PMPCA" class="n"><ellipse cx="620" cy="497" rx="17" ry="9.5"/><text x="620" y="497" class="c5">PMPCA</text></g>
<g id="n-BAG3" class="n"><ellipse cx="714" cy="506" rx="17" ry="9.5"/><text x="714" y="506" class="c4">BAG3</text></g>
<g id="n-ZYG11B" class="n"><ellipse cx="665" cy="513" rx="17" ry="9.5"/><text x="665" y="513" class="c6">ZYG11B</text></g>
<g id="n-RHBDD2" class="n"><ellipse cx="684" cy="526" rx="17" ry="9.5"/><text x="684" y="526" class="c7">RHBDD2</text></g>
<g id="n-ARL6IP5" class="n"><ellipse cx="718" cy="534" rx="17" ry="9.5"/><text x="718" y="534" class="c7">ARL6IP5</text></g>
<g id="n-MAGED1" class="n"><ellipse cx="507" cy="513" rx="17" ry="9.5"/><text x="507" y="513" class="c7">MAGED1</text></g>
<g id="n-BCAP29" class="n"><ellipse cx="490" cy="535" rx="17" ry="9.5"/><text x="490" y="535" class="c6">BCAP29</text></g>
<g id="n-BCAP31" class="n"><ellipse cx="527" cy="537" rx="17" ry="9.5"/><text x="527" y="537" class="c6">BCAP31</text></g>
<g id="n-PTER" class="n"><ellipse cx="593" cy="542" rx="17" ry="9.5"/><text x="593" y="542" class="c4">PTER</text></g>
<g id="n-PLEKHG1" class="n"><ellipse cx="389" cy="558" rx="17" ry="9.5"/><text x="389" y="558" class="c7">PLEKHG1</text></g>
<g id="n-RAB18" class="n"><ellipse cx="428" cy="551" rx="17" ry="9.5"/><text x="428" y="551" class="c5">RAB18</text></g>
<g id="n-SIPA1L2" class="n"><ellipse cx="356" cy="573" rx="17" ry="9.5"/><text x="356" y="573" class="c7">SIPA1L2</text></g>
<g id="n-INHBE" class="n"><ellipse cx="417" cy="577" rx="17" ry="9.5"/><text x="417" y="577" class="c5">INHBE</text></g>
<g id="n-TMEM33" class="n"><ellipse cx="383" cy="591" rx="17" ry="9.5"/><text x="383" y="591" class="c7">TMEM33</text></g>
<g id="n-WDTC1" class="n"><ellipse cx="423" cy="630" rx="17" ry="9.5"/><text x="423" y="630" class="c5">WDTC1</text></g>
<g id="n-TTC17" class="n"><ellipse cx="459" cy="622" rx="17" ry="9.5"/><text x="459" y="622" class="c5">TTC17</text></g>
<g id="n-QPCTL" class="n"><ellipse cx="485" cy="641" rx="17" ry="9.5"/><text x="485" y="641" class="c5">QPCTL</text></g>
<g id="n-SERINC1" class="n"><ellipse cx="448" cy="648" rx="17" ry="9.5"/><text x="448" y="648" class="c7">SERINC1</text></g>
<g id="n-HSPA5" class="n"><ellipse cx="514" cy="657" rx="17" ry="9.5"/><text x="514" y="657" class="c5">HSPA5</text></g>
<g id="n-DHX40" class="n"><ellipse cx="480" cy="667" rx="17" ry="9.5"/><text x="480" y="667" class="c5">DHX40</text></g>
<g id="n-BRI3BP" class="n"><ellipse cx="503" cy="684" rx="17" ry="9.5"/><text x="503" y="684" class="c6">BRI3BP</text></g>
<g id="n-TMCC2" class="n"><ellipse cx="543" cy="674" rx="17" ry="9.5"/><text x="543" y="674" class="c5">TMCC2</text></g>
<g id="n-SARAF" class="n"><ellipse cx="643" cy="602" rx="17" ry="9.5"/><text x="643" y="602" class="c5">SARAF</text></g>
<g id="n-DNAJC13" class="n"><ellipse cx="650" cy="646" rx="17" ry="9.5"/><text x="650" y="646" class="c7">DNAJC13</text></g>
<g id="n-TMCC1" class="n"><ellipse cx="625" cy="664" rx="17" ry="9.5"/><text x="625" y="664" class="c5">TMCC1</text></g>
<g id="n-SLC35B2" class="n hdf"><ellipse cx="62" cy="517" rx="17" ry="11"/><text x="62" y="517" class="c2"><tspan x="62" dy="-4">SLC35-</tspan><tspan x="62" dy="8">B2</tspan></text></g>
<g id="n-PPM1A" class="n"><ellipse cx="105" cy="519" rx="17" ry="9.5"/><text x="105" y="519" class="c5">PPM1A</text></g>
<g id="n-NDFIP2" class="n"><ellipse cx="84" cy="543" rx="17" ry="9.5"/><text x="84" y="543" class="c6">NDFIP2</text></g>
<g id="n-TMEM186" class="n"><ellipse cx="179" cy="465" rx="17" ry="9.5"/><text x="179" y="465" class="c7">TMEM186</text></g>
<g id="n-FAM118B" class="n"><ellipse cx="216" cy="477" rx="17" ry="9.5"/><text x="216" y="477" class="c7">FAM118B</text></g>
<g id="n-FAM234A" class="n"><ellipse cx="175" cy="492" rx="17" ry="9.5"/><text x="175" y="492" class="c7">FAM234A</text></g>
<g id="n-TMEM147" class="n"><ellipse cx="248" cy="491" rx="17" ry="9.5"/><text x="248" y="491" class="c7">TMEM147</text></g>
<g id="n-HAT1" class="n"><ellipse cx="213" cy="504" rx="17" ry="9.5"/><text x="213" y="504" class="c4">HAT1</text></g>
<g id="n-KLK10" class="n"><ellipse cx="247" cy="523" rx="17" ry="9.5"/><text x="247" y="523" class="c5">KLK10</text></g>
<g id="n-MTX1" class="n"><ellipse cx="257" cy="586" rx="17" ry="9.5"/><text x="257" y="586" class="c4">MTX1</text></g>
<g id="n-SCAMP3" class="n"><ellipse cx="233" cy="606" rx="17" ry="9.5"/><text x="233" y="606" class="c7">SCAMP3</text></g>
<g id="n-NASP" class="n"><ellipse cx="269" cy="610" rx="17" ry="9.5"/><text x="269" y="610" class="c4">NASP</text></g>
<g id="n-HMOX2" class="n"><ellipse cx="90" cy="644" rx="17" ry="9.5"/><text x="90" y="644" class="c5">HMOX2</text></g>
<g id="n-FLVCR1" class="n"><ellipse cx="122" cy="656" rx="17" ry="9.5"/><text x="122" y="656" class="c6">FLVCR1</text></g>
<g id="n-B2M" class="n"><ellipse cx="90" cy="669" rx="17" ry="9.5"/><text x="90" y="669" class="c4">B2M</text></g>
<g id="n-PXMP2" class="n"><ellipse cx="169" cy="634" rx="17" ry="9.5"/><text x="169" y="634" class="c5">PXMP2</text></g>
<g id="n-TRIR" class="n"><ellipse cx="201" cy="649" rx="17" ry="9.5"/><text x="201" y="649" class="c4">TRIR</text></g>
<g id="n-GON7" class="n"><ellipse cx="267" cy="674" rx="17" ry="9.5"/><text x="267" y="674" class="c4">GON7</text></g>
<g id="n-CTNNAL1" class="n"><ellipse cx="303" cy="675" rx="17" ry="9.5"/><text x="303" y="675" class="c7">CTNNAL1</text></g>
<g id="n-TBC1D22B" class="n"><ellipse cx="342" cy="675" rx="17" ry="11"/><text x="342" y="675" class="c2"><tspan x="342" dy="-4">TBC1-</tspan><tspan x="342" dy="8">D22B</tspan></text></g>
<g id="n-PHGDH" class="n"><ellipse cx="248" cy="697" rx="17" ry="9.5"/><text x="248" y="697" class="c5">PHGDH</text></g>
<g id="n-TMPO" class="n"><ellipse cx="285" cy="700" rx="17" ry="9.5"/><text x="285" y="700" class="c4">TMPO</text></g>
<g id="n-VKORC1L1" class="n"><ellipse cx="325" cy="698" rx="17" ry="11"/><text x="325" y="698" class="c2"><tspan x="325" dy="-4">VKOR-</tspan><tspan x="325" dy="8">C1L1</tspan></text></g>
<g id="n-MAPK1IP1L" class="n"><ellipse cx="263" cy="723" rx="17" ry="11"/><text x="263" y="723" class="c2"><tspan x="263" dy="-4">MAPK1-</tspan><tspan x="263" dy="8">IP1L</tspan></text></g>
<g id="n-KHSRP" class="n"><ellipse cx="303" cy="722" rx="17" ry="9.5"/><text x="303" y="722" class="c5">KHSRP</text></g>
<g id="n-TCOF1" class="n"><ellipse cx="339" cy="721" rx="17" ry="9.5"/><text x="339" y="721" class="c5">TCOF1</text></g>
<g id="n-MCUR1" class="n"><ellipse cx="67" cy="749" rx="17" ry="9.5"/><text x="67" y="749" class="c5">MCUR1</text></g>
<g id="n-STIM2" class="n"><ellipse cx="93" cy="768" rx="17" ry="9.5"/><text x="93" y="768" class="c5">STIM2</text></g>
<g id="n-MICU2" class="n"><ellipse cx="54" cy="775" rx="17" ry="9.5"/><text x="54" y="775" class="c5">MICU2</text></g>
<g id="n-SLC38A1" class="n"><ellipse cx="118" cy="788" rx="17" ry="9.5"/><text x="118" y="788" class="c7">SLC38A1</text></g>
<g id="n-MFSD10" class="n"><ellipse cx="79" cy="794" rx="17" ry="9.5"/><text x="79" y="794" class="c7">MFSD10</text></g>
<g id="n-VPS45" class="n"><ellipse cx="52" cy="859" rx="17" ry="9.5"/><text x="52" y="859" class="c5">VPS45</text></g>
<g id="n-RNF185" class="n"><ellipse cx="93" cy="859" rx="17" ry="9.5"/><text x="93" y="859" class="c6">RNF185</text></g>
<g id="n-FKBP8" class="n"><ellipse cx="71" cy="882" rx="17" ry="9.5"/><text x="71" y="882" class="c5">FKBP8</text></g>
<g id="n-TIMM10" class="n"><ellipse cx="122" cy="907" rx="17" ry="9.5"/><text x="122" y="907" class="c6">TIMM10</text></g>
<g id="n-TIMM29" class="n"><ellipse cx="89" cy="921" rx="17" ry="9.5"/><text x="89" y="921" class="c6">TIMM29</text></g>
<g id="n-CHCHD3" class="n"><ellipse cx="124" cy="933" rx="17" ry="9.5"/><text x="124" y="933" class="c7">CHCHD3</text></g>
<g id="n-CRKL" class="n"><ellipse cx="232" cy="877" rx="17" ry="9.5"/><text x="232" y="877" class="c4">CRKL</text></g>
<g id="n-CNEP1R1" class="n"><ellipse cx="207" cy="894" rx="17" ry="9.5"/><text x="207" y="894" class="c7">CNEP1R1</text></g>
<g id="n-STARD3NL" class="n"><ellipse cx="245" cy="908" rx="17" ry="9.5"/><text x="245" y="908" class="c8">STARD3NL</text></g>
<g id="n-TEX2" class="n"><ellipse cx="182" cy="914" rx="17" ry="9.5"/><text x="182" y="914" class="c4">TEX2</text></g>
<g id="n-ACAD9" class="n"><ellipse cx="211" cy="924" rx="17" ry="9.5"/><text x="211" y="924" class="c5">ACAD9</text></g>
<g id="n-PGRMC1" class="n"><ellipse cx="293" cy="915" rx="17" ry="9.5"/><text x="293" y="915" class="c7">PGRMC1</text></g>
<g id="n-SCAP" class="n"><ellipse cx="326" cy="915" rx="17" ry="9.5"/><text x="326" y="915" class="c4">SCAP</text></g>
<g id="n-ERLIN1" class="n"><ellipse cx="264" cy="935" rx="17" ry="9.5"/><text x="264" y="935" class="c6">ERLIN1</text></g>
<g id="n-ERLIN2" class="n"><ellipse cx="295" cy="943" rx="17" ry="9.5"/><text x="295" y="943" class="c6">ERLIN2</text></g>
<g id="n-AMFR" class="n"><ellipse cx="332" cy="947" rx="17" ry="9.5"/><text x="332" y="947" class="c4">AMFR</text></g>
<g id="n-COG3" class="n hdf"><ellipse cx="329" cy="850" rx="17" ry="9.5"/><text x="329" y="850" class="c4">COG3</text></g>
<g id="n-YIF1A" class="n"><ellipse cx="298" cy="863" rx="17" ry="9.5"/><text x="298" y="863" class="c5">YIF1A</text></g>
<g id="n-COG2" class="n"><ellipse cx="358" cy="869" rx="17" ry="9.5"/><text x="358" y="869" class="c4">COG2</text></g>
<g id="n-EXOC5" class="n"><ellipse cx="325" cy="881" rx="17" ry="9.5"/><text x="325" y="881" class="c5">EXOC5</text></g>
<g id="n-DYM" class="n"><ellipse cx="435" cy="825" rx="14" ry="9.5"/><text x="435" y="825" class="c4">DYM</text></g>
<g id="n-VDAC1" class="n"><ellipse cx="462" cy="843" rx="17" ry="9.5"/><text x="462" y="843" class="c5">VDAC1</text></g>
<g id="n-GPRC5C" class="n"><ellipse cx="426" cy="852" rx="17" ry="9.5"/><text x="426" y="852" class="c7">GPRC5C</text></g>
<g id="n-IPO11" class="n"><ellipse cx="457" cy="870" rx="17" ry="9.5"/><text x="457" y="870" class="c5">IPO11</text></g>
<g id="n-RNF5" class="n"><ellipse cx="438" cy="913" rx="17" ry="9.5"/><text x="438" y="913" class="c4">RNF5</text></g>
<g id="n-TMUB1" class="n"><ellipse cx="416" cy="937" rx="17" ry="9.5"/><text x="416" y="937" class="c5">TMUB1</text></g>
<g id="n-UFD1" class="n"><ellipse cx="458" cy="936" rx="17" ry="9.5"/><text x="458" y="936" class="c4">UFD1</text></g>
<g id="n-NDUFA7" class="n"><ellipse cx="396" cy="737" rx="13" ry="9"/><text x="396" y="737" class="cn">NDUFA7</text></g>
<g id="n-NDUFB6" class="n"><ellipse cx="423" cy="737" rx="13" ry="9"/><text x="423" y="737" class="cn">NDUFB6</text></g>
<g id="n-NDUFB9" class="n"><ellipse cx="449" cy="737" rx="13" ry="9"/><text x="449" y="737" class="cn">NDUFB9</text></g>
<g id="n-NDUFA10" class="n"><ellipse cx="475" cy="737" rx="13" ry="9"/><text x="475" y="737" class="cn">NDUFA10</text></g>
<g id="n-NDUFA9" class="n"><ellipse cx="396" cy="755" rx="13" ry="9"/><text x="396" y="755" class="cn">NDUFA9</text></g>
<g id="n-NDUFB4" class="n"><ellipse cx="423" cy="755" rx="13" ry="9"/><text x="423" y="755" class="cn">NDUFB4</text></g>
<g id="n-NDUFC2" class="n"><ellipse cx="449" cy="755" rx="13" ry="9"/><text x="449" y="755" class="cn">NDUFC2</text></g>
<g id="n-NDUFV1" class="n"><ellipse cx="475" cy="755" rx="13" ry="9"/><text x="475" y="755" class="cn">NDUFV1</text></g>
<g id="n-NDUFA8" class="n"><ellipse cx="396" cy="774" rx="13" ry="9"/><text x="396" y="774" class="cn">NDUFA8</text></g>
<g id="n-NDUFS8" class="n"><ellipse cx="423" cy="774" rx="13" ry="9"/><text x="423" y="774" class="cn">NDUFS8</text></g>
<g id="n-NDUFS3" class="n"><ellipse cx="449" cy="774" rx="13" ry="9"/><text x="449" y="774" class="cn">NDUFS3</text></g>
<g id="n-NDUFA6" class="n"><ellipse cx="475" cy="774" rx="13" ry="9"/><text x="475" y="774" class="cn">NDUFA6</text></g>
<g id="n-NDUFS2" class="n"><ellipse cx="396" cy="792" rx="13" ry="9"/><text x="396" y="792" class="cn">NDUFS2</text></g>
<g id="n-NDUFS5" class="n"><ellipse cx="423" cy="792" rx="13" ry="9"/><text x="423" y="792" class="cn">NDUFS5</text></g>
<g id="n-NDUFS4" class="n"><ellipse cx="449" cy="792" rx="13" ry="9"/><text x="449" y="792" class="cn">NDUFS4</text></g>
<g id="n-NDUFS1" class="n"><ellipse cx="475" cy="792" rx="13" ry="9"/><text x="475" y="792" class="cn">NDUFS1</text></g>
<g id="n-MT-CO2" class="n"><ellipse cx="543" cy="758" rx="17" ry="9.5"/><text x="543" y="758" class="c7">MT-CO2</text></g>
<g id="n-COX7A2" class="n"><ellipse cx="582" cy="758" rx="17" ry="9.5"/><text x="582" y="758" class="c7">COX7A2</text></g>
<g id="n-COX5A" class="n"><ellipse cx="617" cy="758" rx="17" ry="9.5"/><text x="617" y="758" class="c5">COX5A</text></g>
<g id="n-COX5B" class="n"><ellipse cx="563" cy="780" rx="17" ry="9.5"/><text x="563" y="780" class="c5">COX5B</text></g>
<g id="n-COX4I1" class="n"><ellipse cx="598" cy="780" rx="17" ry="9.5"/><text x="598" y="780" class="c6">COX4I1</text></g>
<g id="n-PHB2" class="n"><ellipse cx="655" cy="803" rx="17" ry="9.5"/><text x="655" y="803" class="c4">PHB2</text></g>
<g id="n-PHB1" class="n"><ellipse cx="690" cy="804" rx="17" ry="9.5"/><text x="690" y="804" class="c4">PHB1</text></g>
<g id="n-EMC7" class="n"><ellipse cx="697" cy="862" rx="17" ry="9.5"/><text x="697" y="862" class="c4">EMC7</text></g>
<g id="n-EMC8" class="n"><ellipse cx="672" cy="881" rx="17" ry="9.5"/><text x="672" y="881" class="c4">EMC8</text></g>
<g id="n-EMC1" class="n"><ellipse cx="722" cy="881" rx="17" ry="9.5"/><text x="722" y="881" class="c4">EMC1</text></g>
<g id="n-EMC2" class="n"><ellipse cx="698" cy="900" rx="17" ry="9.5"/><text x="698" y="900" class="c4">EMC2</text></g>
<g id="n-ATP2A2" class="n hdf"><ellipse cx="542" cy="919" rx="17" ry="9.5"/><text x="542" y="919" class="c7">ATP2A2</text></g>
<g id="n-HEATR1" class="n"><ellipse cx="578" cy="918" rx="17" ry="9.5"/><text x="578" y="918" class="c7">HEATR1</text></g>
<g id="n-LNPK" class="n"><ellipse cx="520" cy="943" rx="17" ry="9.5"/><text x="520" y="943" class="c4">LNPK</text></g>
<g id="n-LMBRD2" class="n"><ellipse cx="561" cy="943" rx="17" ry="9.5"/><text x="561" y="943" class="c7">LMBRD2</text></g>
<g id="n-SURF4" class="n"><ellipse cx="658" cy="916" rx="17" ry="9.5"/><text x="658" y="916" class="c5">SURF4</text></g>
<g id="n-RAB5B" class="n"><ellipse cx="640" cy="939" rx="17" ry="9.5"/><text x="640" y="939" class="c5">RAB5B</text></g>
<g id="n-CLCC1" class="n"><ellipse cx="677" cy="939" rx="17" ry="9.5"/><text x="677" y="939" class="c5">CLCC1</text></g>
</g>
<g id="hubs">
<g id="h-Capsid" class="hub"><rect x="171" y="143" width="48" height="27" rx="4"/><text x="195" y="157">Capsid</text></g>
<g id="h-NS5" class="hub"><rect x="555" y="157" width="39" height="27" rx="4"/><text x="574.5" y="171">NS5</text></g>
<g id="h-prME" class="hub"><rect x="37" y="342" width="40" height="26" rx="4"/><text x="57" y="355.5">prME</text></g>
<g id="h-NS1" class="hub"><rect x="304" y="366" width="39" height="26" rx="4"/><text x="323.5" y="379.5">NS1</text></g>
<g id="h-NS3" class="hub"><rect x="537" y="428" width="39" height="26" rx="4"/><text x="556.5" y="441.5">NS3</text></g>
<g id="h-NS4B" class="hub"><rect x="138" y="552" width="39" height="27" rx="4"/><text x="157.5" y="566">NS4B</text></g>
<g id="h-NS2B3" class="hub"><rect x="533" y="585" width="46" height="26" rx="4"/><text x="556" y="598.5">NS2B3</text></g>
<g id="h-NS2B" class="hub"><rect x="699" y="588" width="39" height="27" rx="4"/><text x="718.5" y="602">NS2B</text></g>
<g id="h-NS4A" class="hub"><rect x="183" y="768" width="39" height="27" rx="4"/><text x="202.5" y="782">NS4A</text></g>
<g id="h-NS2A" class="hub"><rect x="547" y="841" width="40" height="27" rx="4"/><text x="567" y="855">NS2A</text></g>
</g>
<g id="legend">
<line x1="10" y1="982" x2="762" y2="982" stroke="#555" stroke-width="1"/>
<rect x="30" y="993" width="40" height="22" rx="4" fill="#c9c9c9" stroke="#333" stroke-width="1.2"/>
<text class="lg" x="79" y="1008">YFV protein (10)</text>
<line x1="23" y1="1034" x2="70" y2="1034" stroke="#bdbdbd" stroke-width="1"/>
<text class="lg" x="79" y="1039">YFV-human PPI (265)</text>
<ellipse cx="245" cy="1003" rx="19" ry="12" fill="#fdf0c5" stroke="#3a3a3a" stroke-width=".8"/>
<text class="lg" x="283" y="1008">Human protein (235)</text>
<ellipse cx="245" cy="1034" rx="19" ry="12" fill="#f2c04c" stroke="#151515" stroke-width="2"/>
<text class="lg" x="283" y="1039">YFV host-dependency factor (13)</text>
<ellipse cx="543" cy="1003" rx="27" ry="11" fill="#dddad0"/>
<text class="lg" x="578" y="1008">GO:BP</text>
<ellipse cx="544" cy="1035" rx="27" ry="11" fill="none" stroke="#222" stroke-width="1"/>
<text class="lg" x="578" y="1031" font-weight="bold">CORUM</text>
<text class="lg" x="578" y="1046" font-weight="bold">complex</text>
</g>
</svg>
